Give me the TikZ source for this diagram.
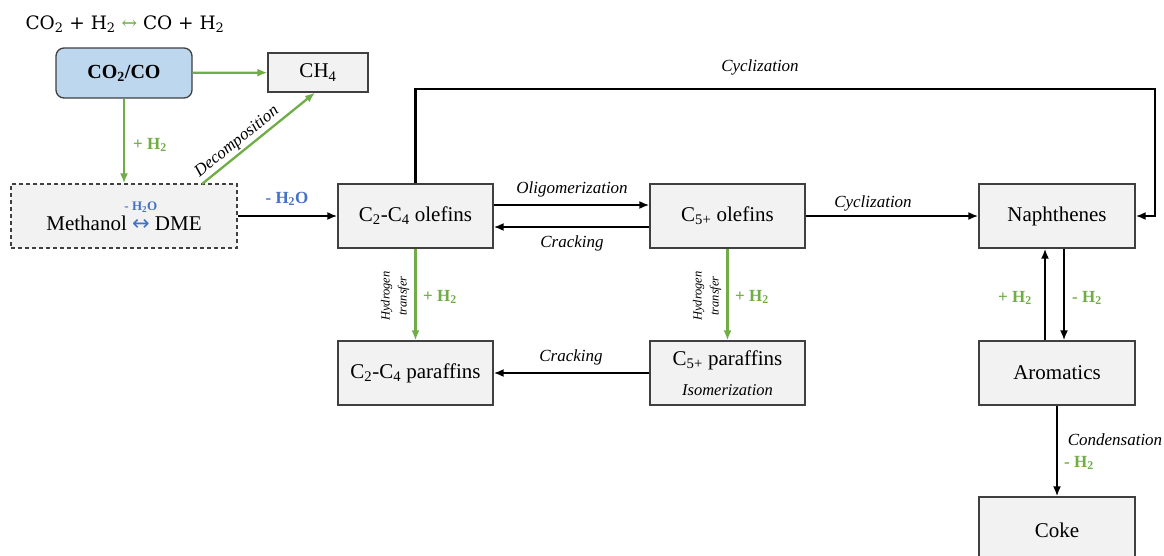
\documentclass[tikz,border=0pt]{standalone}
\usepackage{fontspec}
\setmainfont{Liberation Serif}
\newfontfamily\symf{DejaVu Sans}
\newfontfamily\eqf{DejaVu Serif}
\usetikzlibrary{arrows.meta}
\definecolor{grn}{HTML}{70AD47}
\definecolor{blu}{HTML}{4472C4}
\definecolor{boxfill}{HTML}{F2F2F2}
\definecolor{bluefill}{HTML}{BDD7EE}
\definecolor{bord}{HTML}{404040}
\begin{document}
\begin{tikzpicture}[x=1pt,y=-1pt,
  box/.style={draw=bord, line width=1.3pt, fill=boxfill, minimum width=155pt,
    minimum height=64pt, inner sep=0pt, font=\fontsize{21}{30}\selectfont},
  arr/.style={-{Latex[length=10pt,width=8pt]}, line width=2pt, black},
  garr/.style={-{Latex[length=10pt,width=8pt]}, line width=2.3pt, grn},
  lab/.style={font=\fontsize{17}{20}\selectfont\itshape, text=black, inner sep=1pt},
  hlab/.style={font=\fontsize{17}{20}\selectfont\bfseries, text=grn, inner sep=1pt},
  blab/.style={font=\fontsize{17}{20}\selectfont\bfseries, text=blu, inner sep=1pt},
  htlab/.style={font=\fontsize{12.5}{17}\selectfont\itshape, align=center, rotate=90, inner sep=0pt},
]
\clip (0,0) rectangle (1164,555);
\fill[white] (0,0) rectangle (1164,555);

% top equation
\node[font=\eqf\fontsize{18.5}{20}\selectfont, inner sep=0pt] (eq) at (125,24)
  {CO\textsubscript{2} + H\textsubscript{2} {\color{grn}↔} CO + H\textsubscript{2}};

% boxes
\node[box, fill=bluefill, rounded corners=8pt, minimum width=136pt, minimum height=50pt,
  font=\fontsize{20}{24}\selectfont\bfseries] (co2) at (124,73) {CO\textsubscript{2}/CO};
\node[box, minimum width=100pt, minimum height=39pt] (ch4) at (318,72.5) {CH\textsubscript{4}};
\node[box, dash pattern=on 4pt off 3pt, minimum width=226pt] (meth) at (124,216)
  {Methanol {\color{blu}\symf\rlap{\raisebox{20pt}{\makebox[17.6pt]{\normalfont\fontsize{13}{14}\selectfont\bfseries - H\textsubscript{2}O}}}↔} DME};
\node[box] (c24o) at (415.5,216) {C\textsubscript{2}-C\textsubscript{4} olefins};
\node[box] (c5o) at (727.5,216) {C\textsubscript{5+} olefins};
\node[box, minimum width=156pt] (naph) at (1057,216) {Naphthenes};
\node[box] (c24p) at (415.5,373) {C\textsubscript{2}-C\textsubscript{4} paraffins};
\node[box, align=center] (c5p) at (727.5,373)
  {C\textsubscript{5+} paraffins\\{\fontsize{16.5}{20}\selectfont\itshape Isomerization}};
\node[box, minimum width=156pt] (arom) at (1057,373) {Aromatics};
\node[box, minimum width=156pt, minimum height=66pt] (coke) at (1057,530) {Coke};

% coordinates for the cyclization loop
\coordinate (lt) at (415.5,89);
\coordinate (rt) at (1155,89);
\coordinate (dstart) at (202,184);

% green connectors
\draw[garr] (co2) -- (ch4);
\draw[garr] (co2) -- (meth);
\draw[garr] (dstart) -- node[lab, sloped, above=1pt, pos=0.37] (dec) {Decomposition} ([xshift=-3pt]ch4.south);
\draw[garr] (c24o) -- (c24p);
\draw[garr] (c5o) -- (c5p);

% black connectors
\draw[arr] (meth) -- (c24o);
\draw[arr] ([yshift=11pt]c24o.east) -- ([yshift=11pt]c5o.west);
\draw[arr] ([yshift=-11pt]c5o.west) -- ([yshift=-11pt]c24o.east);
\draw[arr] (c5o) -- (naph);
\draw[arr, line width=2.3pt, line join=miter] (c24o.north) -- (lt) -- (rt) |- (naph.east);
\draw[arr] (c5p) -- (c24p);
\draw[arr] ([xshift=-12pt]arom.north) -- ([xshift=-12pt]naph.south);
\draw[arr] ([xshift=7pt]naph.south) -- ([xshift=7pt]arom.north);
\draw[arr] (arom) -- (coke);

% labels
\node[hlab] (h1) at (150,145) {+ H\textsubscript{2}};
\node[blab] (h2o) at (287,199) {- H\textsubscript{2}O};
\node[lab] (olig) at (572,189) {Oligomerization};
\node[lab] (crack1) at (572,243) {Cracking};
\node[lab] (cyc1) at (873,203) {Cyclization};
\node[lab] (cyc2) at (760,67) {Cyclization};
\node[htlab] (ht1) at (395,296) {Hydrogen\\transfer};
\node[hlab] (h3) at (440,297) {+ H\textsubscript{2}};
\node[htlab] (ht2) at (707,296) {Hydrogen\\transfer};
\node[hlab] (h4) at (752,297) {+ H\textsubscript{2}};
\node[lab] (crack2) at (571,357) {Cracking};
\node[hlab] (h5) at (1015,298) {+ H\textsubscript{2}};
\node[hlab] (h6) at (1087,298) {- H\textsubscript{2}};
\node[lab] (cond) at (1115,440) {Condensation};
\node[hlab] (h7) at (1079,463) {- H\textsubscript{2}};
\end{tikzpicture}
\end{document}
